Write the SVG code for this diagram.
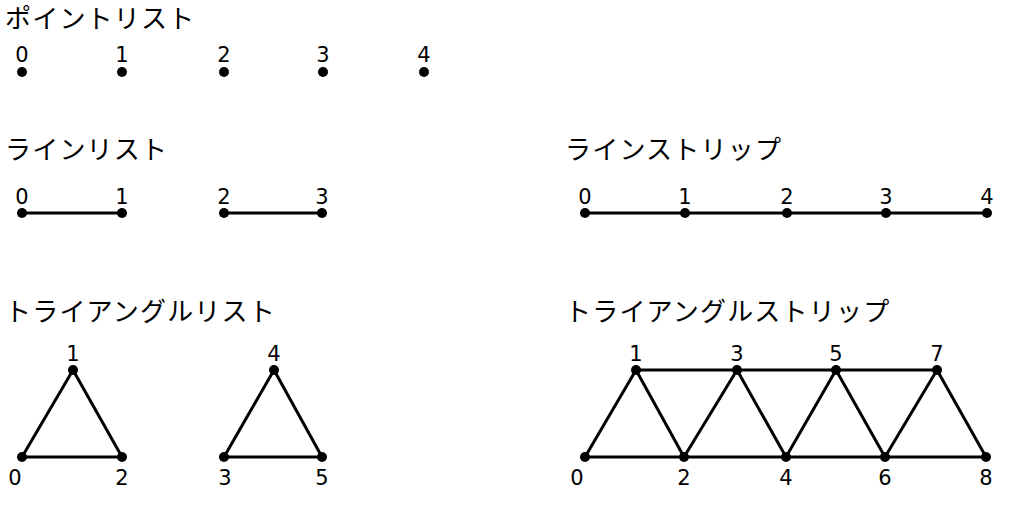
<svg xmlns="http://www.w3.org/2000/svg" width="1024" height="512" viewBox="0 0 1024 512">
<style>
.t{font-family:"Noto Sans CJK JP","Noto Sans",sans-serif;font-size:26px;letter-spacing:1.2px;fill:#000}
.n{font-family:"DejaVu Sans",Verdana,sans-serif;font-size:21px;fill:#000;text-anchor:middle}
.d{fill:#000}
.e{stroke:#000;stroke-width:3;fill:none;stroke-linejoin:round}
</style>
<rect width="1024" height="512" fill="#fff"/>
<g id="titles">
<text class="t" x="5" y="28">ポイントリスト</text>
<text class="t" x="5" y="159">ラインリスト</text>
<text class="t" x="565" y="159">ラインストリップ</text>
<text class="t" x="5" y="321">トライアングルリスト</text>
<text class="t" x="565" y="321">トライアングルストリップ</text>
</g>
<g id="connectors">
<line class="e" x1="22" y1="213" x2="122" y2="213"/>
<line class="e" x1="224" y1="213" x2="322" y2="213"/>
<line class="e" x1="585" y1="213" x2="987" y2="213"/>
<polygon class="e" points="22,457 73,370 122,457"/>
<polygon class="e" points="224,457 274,370 322,457"/>
<polyline class="e" points="585,457 636,370 684,457 737,370 786,457 836,370 885,457 937,370 986,457"/>
<line class="e" x1="636" y1="370" x2="937" y2="370"/>
<line class="e" x1="585" y1="457" x2="986" y2="457"/>
</g>
<g id="pointlist">
<circle class="d" cx="22" cy="72" r="5"/><text class="n" x="22" y="62">0</text>
<circle class="d" cx="122" cy="72" r="5"/><text class="n" x="122" y="62">1</text>
<circle class="d" cx="224" cy="72" r="5"/><text class="n" x="224" y="62">2</text>
<circle class="d" cx="323" cy="72" r="5"/><text class="n" x="323" y="62">3</text>
<circle class="d" cx="424" cy="72" r="5"/><text class="n" x="424" y="62">4</text>
</g>
<g id="linelist">
<circle class="d" cx="22" cy="213" r="5"/><text class="n" x="22" y="204">0</text>
<circle class="d" cx="122" cy="213" r="5"/><text class="n" x="122" y="204">1</text>
<circle class="d" cx="224" cy="213" r="5"/><text class="n" x="224" y="204">2</text>
<circle class="d" cx="322" cy="213" r="5"/><text class="n" x="322" y="204">3</text>
</g>
<g id="linestrip">
<circle class="d" cx="585" cy="213" r="5"/><text class="n" x="585" y="204">0</text>
<circle class="d" cx="685" cy="213" r="5"/><text class="n" x="685" y="204">1</text>
<circle class="d" cx="787" cy="213" r="5"/><text class="n" x="787" y="204">2</text>
<circle class="d" cx="886" cy="213" r="5"/><text class="n" x="886" y="204">3</text>
<circle class="d" cx="987" cy="213" r="5"/><text class="n" x="987" y="204">4</text>
</g>
<g id="trianglelist">
<circle class="d" cx="22" cy="457" r="5"/><text class="n" x="15" y="485">0</text>
<circle class="d" cx="73" cy="370" r="5"/><text class="n" x="73" y="361">1</text>
<circle class="d" cx="122" cy="457" r="5"/><text class="n" x="122" y="485">2</text>
<circle class="d" cx="224" cy="457" r="5"/><text class="n" x="225" y="485">3</text>
<circle class="d" cx="274" cy="370" r="5"/><text class="n" x="274" y="361">4</text>
<circle class="d" cx="322" cy="457" r="5"/><text class="n" x="322" y="485">5</text>
</g>
<g id="trianglestrip">
<circle class="d" cx="585" cy="457" r="5"/><text class="n" x="577" y="485">0</text>
<circle class="d" cx="636" cy="370" r="5"/><text class="n" x="636" y="361">1</text>
<circle class="d" cx="684" cy="457" r="5"/><text class="n" x="684" y="485">2</text>
<circle class="d" cx="737" cy="370" r="5"/><text class="n" x="737" y="361">3</text>
<circle class="d" cx="786" cy="457" r="5"/><text class="n" x="786" y="485">4</text>
<circle class="d" cx="836" cy="370" r="5"/><text class="n" x="836" y="361">5</text>
<circle class="d" cx="885" cy="457" r="5"/><text class="n" x="885" y="485">6</text>
<circle class="d" cx="937" cy="370" r="5"/><text class="n" x="937" y="361">7</text>
<circle class="d" cx="986" cy="457" r="5"/><text class="n" x="986" y="485">8</text>
</g>
</svg>
